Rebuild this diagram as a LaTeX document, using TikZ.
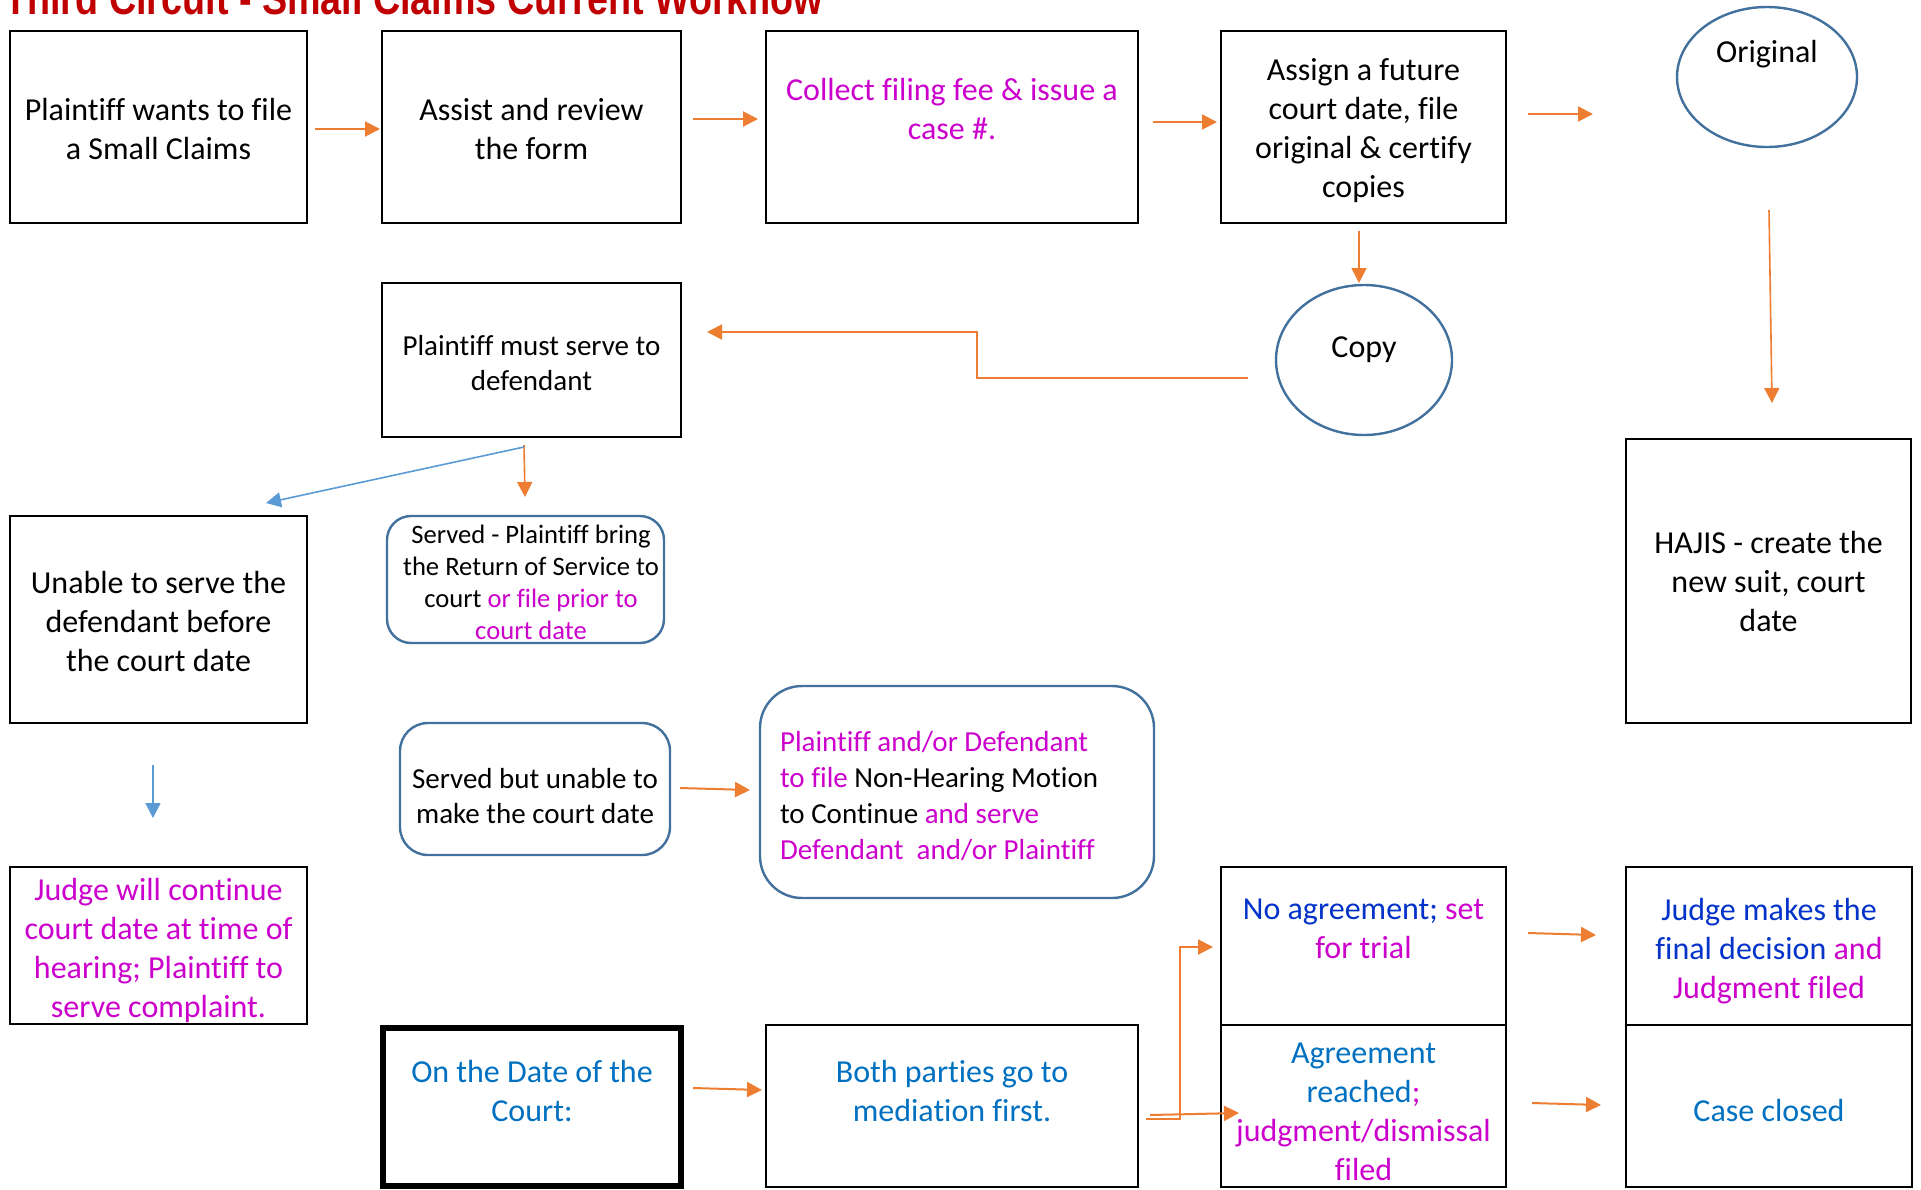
\documentclass[tikz,border=0pt]{standalone}
\usepackage{fontspec}
\setmainfont{Carlito}[Ligatures=CommonOff]
\newfontfamily\titlefont{Liberation Sans Bold}[FakeStretch=0.82]
\usetikzlibrary{arrows.meta,calc,shapes.geometric}

\definecolor{flowor}{HTML}{ED7D31}
\definecolor{flowbl}{HTML}{5B9BD5}
\definecolor{rimblue}{HTML}{41719C}
\definecolor{mag}{HTML}{CC00CC}
\definecolor{dkblue}{HTML}{0433C9}
\definecolor{ltblue}{HTML}{0070C0}
\definecolor{titlered}{HTML}{C00000}

\tikzset{
  fbig/.style={font=\fontsize{16}{19.5}\selectfont},
  fmid/.style={font=\fontsize{14.5}{17.9}\selectfont},
  fsmall/.style={font=\fontsize{13.3}{16}\selectfont},
  box/.style={draw=black, line width=1.1pt, inner sep=0pt, outer sep=0pt},
  heavybox/.style={box, line width=3pt},
  oval/.style={ellipse, draw=rimblue, line width=1.2pt, inner sep=0pt, outer sep=0pt},
  rbox/.style={draw=rimblue, line width=1.2pt, inner sep=0pt, outer sep=0pt},
  txt/.style={inner sep=0pt, outer sep=0pt, align=center, fbig},
  arr/.style={draw=flowor, line width=1pt, -{Triangle[length=7.5pt,width=7.5pt]}},
  barr/.style={draw=flowbl, line width=0.8pt, -{Triangle[length=7.5pt,width=7.5pt]}},
}

\begin{document}
\begin{tikzpicture}[x=0.5pt,y=-0.5pt]
  \fill[white] (0,0) rectangle (1921,1189);
  \useasboundingbox (0,0) rectangle (1921,1189);

  % heading
  \node[anchor=base west, inner sep=0pt, text=titlered,
        font=\titlefont\fontsize{23}{27}\selectfont] (title) at (4,14)
        {Third Circuit - Small Claims Current Workflow};

  % top row
  \node[box, minimum width=148.5pt, minimum height=96pt] (b1) at (158.5,127) {};
  \node[txt] (b1t) at (158.5,129.5) {Plaintiff wants to file\\a Small Claims};
  \node[box, minimum width=149.5pt, minimum height=96pt] (b2) at (531.5,127) {};
  \node[txt] (b2t) at (531.5,129.5) {Assist and review\\the form};
  \node[box, minimum width=186pt, minimum height=96pt] (b3) at (952,127) {};
  \node[txt, text=mag] (b3t) at (952,109) {Collect filing fee \& issue a\\case \#.};
  \node[box, minimum width=142.5pt, minimum height=96pt] (b4) at (1363.5,127) {};
  \node[txt] (b4t) at (1363.5,131)
    {Assign a future\\court date, file\\original \& certify\\copies};

  \node[oval, minimum width=90pt, minimum height=70pt] (orig) at (1767,77) {};
  \node[txt] (origt) at (1767,54.5) {Original};
  \node[oval, minimum width=88pt, minimum height=75pt] (copy) at (1364,360) {};
  \node[txt] (copyt) at (1364,349.5) {Copy};

  \node[box, minimum width=142.5pt, minimum height=142pt] (hajis) at (1768.5,581) {};
  \node[txt] (hajist) at (1768.5,581) {HAJIS - create the\\new suit, court\\date};

  % service
  \node[box, minimum width=149.5pt, minimum height=77pt] (serve) at (531.5,360) {};
  \node[txt, fmid] (servet) at (531.5,363) {Plaintiff must serve to\\defendant};
  \node[box, minimum width=148.5pt, minimum height=103.5pt] (unable) at (158.5,619.5) {};
  \node[txt] (unablet) at (158.5,621) {Unable to serve the\\defendant before\\the court date};
  \node[rbox, rounded corners=12pt, minimum width=138.5pt, minimum height=63.5pt]
    (served) at (525.5,579.5) {};
  \node[txt, fsmall] (servedt) at (531,582.5)
    {Served - Plaintiff bring\\the Return of Service to\\court \textcolor{mag}{or file prior to}\\\textcolor{mag}{court date}};
  \node[rbox, rounded corners=14pt, minimum width=135pt, minimum height=66pt]
    (sbu) at (535,789) {};
  \node[txt, fmid] (sbut) at (535,796) {Served but unable to\\make the court date};
  \node[rbox, rounded corners=21pt, minimum width=197pt, minimum height=106pt]
    (motion) at (957,792) {};
  \node[txt, fmid, align=left, anchor=west] (motiont) at (780,796)
    {\textcolor{mag}{Plaintiff and/or Defendant}\\
     \textcolor{mag}{to file} Non-Hearing Motion\\
     to Continue \textcolor{mag}{and serve}\\
     \textcolor{mag}{Defendant\ \ and/or Plaintiff}};
  \node[box, minimum width=148.5pt, minimum height=78.5pt] (judge1) at (158.5,945.5) {};
  \node[txt, text=mag] (judge1t) at (158.5,950)
    {Judge will continue\\court date at time of\\hearing; Plaintiff to\\serve complaint.};

  % court date row
  \node[heavybox, minimum width=149pt, minimum height=79pt] (ondate) at (532,1107) {};
  \node[txt, text=ltblue] (ondatet) at (532,1091) {On the Date of the\\Court:};
  \node[box, minimum width=186pt, minimum height=81pt] (both) at (952,1106) {};
  \node[txt, text=ltblue] (botht) at (952,1091) {Both parties go to\\mediation first.};
  \node[box, minimum width=142.5pt, minimum height=79pt] (noagr) at (1363.5,946) {};
  \node[txt] (noagrt) at (1363.5,928.5)
    {\textcolor{dkblue}{No agreement;} \textcolor{mag}{set}\\\textcolor{mag}{for trial}};
  \node[box, minimum width=142.5pt, minimum height=81pt] (agr) at (1363.5,1106) {};
  \node[txt] (agrt) at (1363.5,1112)
    {\textcolor{ltblue}{Agreement}\\\textcolor{ltblue}{reached}\textcolor{mag}{;}\\
     \textcolor{mag}{judgment/dismissal}\\\textcolor{mag}{filed}};
  \node[box, minimum width=143pt, minimum height=79pt] (judge2) at (1769,946) {};
  \node[txt] (judge2t) at (1769,951)
    {\textcolor{dkblue}{Judge makes the}\\\textcolor{dkblue}{final decision} \textcolor{mag}{and}\\
     \textcolor{mag}{Judgment filed}};
  \node[box, minimum width=143pt, minimum height=81pt] (closed) at (1769,1106) {};
  \node[txt, text=ltblue] (closedt) at (1769,1110) {Case closed};

  % connectors
  \draw[arr] ($(b1.east)+(8,2)$) -- ($(b2.west)+(-2,2)$);
  \draw[arr] ($(b2.east)+(12,-8)$) -- ($(b3.west)+(-8,-8)$);
  \draw[arr] ($(b3.east)+(15,-5)$) -- ($(b4.west)+(-4,-5)$);
  \draw[arr] ($(b4.east)+(22,-13)$) -- ($(orig.west)+(-84,37)$);
  \draw[arr, line width=0.8pt] ($(b4.south)+(-4.5,8)$) -- ($(copy.north)+(-5,-2)$);
  \draw[arr, line width=0.8pt] ($(orig.south)+(2,63)$) -- ($(hajis.north)+(3.5,-36)$);
  \draw[arr] ($(copy.west)+(-28,18)$) -- ++(-271,0) |- ($(serve.east)+(26,-28)$);
  \draw[arr, line width=0.8pt] ($(serve.south)+(-7.5,8)$) -- ($(served.north)+(-0.5,-19)$);
  \draw[barr] ($(serve.south)+(-7.5,10)$) -- ($(unable.north)+(107.5,-13)$);
  \draw[barr] ($(unable.south)+(-5.5,42)$) -- ($(judge1.north)+(-5.5,-49)$);
  \draw[arr] ($(sbu.east)+(10,-1)$) -- ($(motion.west)+(-10,-2)$);
  \draw[arr] ($(ondate.east)+(12,-19)$) -- ($(both.west)+(-4,-16)$);
  \draw[arr] ($(both.east)+(8,13)$) -- ++(34,0) |- ($(noagr.west)+(-8,1)$);
  \draw[arr] ($(both.east)+(12,9)$) -- ($(agr.west)+(18,7)$);
  \draw[arr] ($(noagr.east)+(22,-13)$) -- ($(judge2.west)+(-30,-11)$);
  \draw[arr] ($(agr.east)+(26,-3)$) -- ($(closed.west)+(-25,-1)$);
\end{tikzpicture}
\end{document}
